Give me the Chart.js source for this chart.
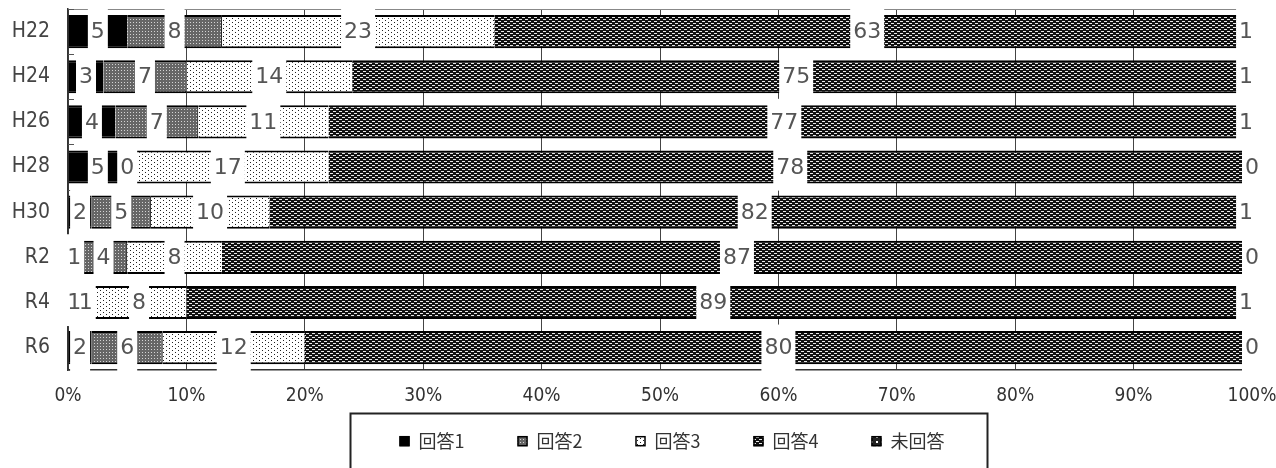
<!DOCTYPE html>
<html><head><meta charset="utf-8">
<script src="https://cdn.jsdelivr.net/npm/chart.js@4.4.1/dist/chart.umd.min.js"></script>
<style>html,body{margin:0;padding:0;background:#fff;}#wrap{width:1276px;height:468px;position:relative;}</style>
</head><body><div id="wrap"><canvas id="c" width="1276" height="468"></canvas></div>
<script>
const categories = ['H22','H24','H26','H28','H30','R2','R4','R6'];
const seriesNames = ['回答1','回答2','回答3','回答4','未回答'];
const answer1 = [5,3,4,5,2,1,1,2];
const answer2 = [8,7,7,0,5,4,1,6];
const answer3 = [23,14,11,17,10,8,8,12];
const answer4 = [63,75,77,78,82,87,89,80];
const noAnswer = [1,1,1,0,1,0,1,0];
const seriesValues = [answer1, answer2, answer3, answer4, noAnswer];
const xTickSuffix = '%';

const canvas = document.getElementById('c');
const mainCtx = canvas.getContext('2d');
function makePattern(w, h, bg, fg, rects){
  const t = document.createElement('canvas'); t.width = w; t.height = h;
  const x = t.getContext('2d');
  x.fillStyle = bg; x.fillRect(0,0,w,h);
  x.fillStyle = fg; rects.forEach(r => x.fillRect(r[0], r[1], r[2]||1, r[3]||1));
  return mainCtx.createPattern(t, 'repeat');
}
const fills = [
  '#000000',
  makePattern(3,3,'#666666','#d4d4d4',[[1,1]]),
  makePattern(6,4,'#ffffff','#222222',[[1,0],[4,2]]),
  makePattern(6,4,'#111111','#e8e8e8',[[0,1,3,1],[3,3,3,1]]),
  makePattern(5,5,'#222222','#ffffff',[[1,1,2,2]])
];
const rightBorders = [0,1,0,0,0];

const datasets = seriesNames.map((name, i) => ({
  label: name,
  data: seriesValues[i],
  backgroundColor: fills[i],
  borderColor: '#000',
  borderWidth: {top:2, bottom:2, left:0, right:rightBorders[i]},
  borderSkipped: false,
  barPercentage: 0.735,
  categoryPercentage: 1.0
}));

const frame = {
  id: 'frame',
  beforeDatasetsDraw(chart){
    const {ctx, chartArea: a} = chart;
    ctx.save();
    ctx.strokeStyle = '#888'; ctx.lineWidth = 1;
    ctx.beginPath(); ctx.moveTo(a.left, a.top + 0.5); ctx.lineTo(a.right, a.top + 0.5); ctx.stroke();
    const pitch = (a.bottom - a.top) / categories.length;
    ctx.strokeStyle = '#555';
    for (let i = 0; i <= categories.length; i++) {
      const y = Math.round(a.top + i * pitch) + 0.5;
      ctx.beginPath(); ctx.moveTo(a.left, y); ctx.lineTo(a.left + 6, y); ctx.stroke();
    }
    ctx.restore();
  }
};

const boxLabels = {
  id: 'boxLabels',
  afterDraw(chart){
    const {ctx, chartArea: a} = chart;
    const pitch = (a.bottom - a.top) / categories.length;
    ctx.save();
    ctx.font = '22px "DejaVu Sans"';
    ctx.textAlign = 'center'; ctx.textBaseline = 'middle';
    const items = [];
    chart.data.datasets.forEach((ds, di) => {
      chart.getDatasetMeta(di).data.forEach((el, i) => {
        const t = String(ds.data[i]);
        const cx = (el.x + el.base) / 2;
        items.push({t, cx, cy: el.y, w: ctx.measureText(t).width + 6});
      });
    });
    ctx.fillStyle = '#fff';
    items.forEach(it => ctx.fillRect(it.cx - it.w/2, it.cy - pitch/2 - 0.5, it.w, pitch + 1.5));
    ctx.fillStyle = '#555';
    items.forEach(it => ctx.fillText(it.t, it.cx, it.cy + 1));
    ctx.restore();
  }
};

// legend drawn on the canvas below the x axis, centred under the plot
const boxedLegend = {
  id: 'boxedLegend',
  afterDraw(chart){
    const {ctx, chartArea: a} = chart;
    ctx.save();
    ctx.font = '18px "Noto Sans CJK JP"';
    ctx.textBaseline = 'middle'; ctx.textAlign = 'left';
    const marker = 10, markerGap = 9, itemGap = 53;
    const widths = chart.data.datasets.map(d => marker + markerGap + ctx.measureText(d.label).width);
    const total = widths.reduce((s, w) => s + w, 0) + itemGap * (widths.length - 1);
    const cx = (a.left + a.right) / 2 + 12;
    const cy = a.bottom + 71;
    let x = cx - total / 2;
    ctx.strokeStyle = '#222'; ctx.lineWidth = 2;
    ctx.strokeRect(Math.round(x - 50) + 0.5, Math.round(cy - 28) + 0.5, Math.round(total + 92), 100);
    chart.data.datasets.forEach((d, i) => {
      ctx.fillStyle = d.backgroundColor;
      ctx.fillRect(x, cy - 5, marker, marker);
      ctx.strokeStyle = '#000'; ctx.lineWidth = 1.5;
      ctx.strokeRect(x + 0.5, cy - 4.5, marker - 1, marker - 1);
      ctx.fillStyle = '#333';
      ctx.fillText(d.label, x + marker + markerGap, cy);
      x += widths[i] + itemGap;
    });
    ctx.restore();
  }
};

new Chart(canvas, {
  type: 'bar',
  data: { labels: categories, datasets },
  options: {
    indexAxis: 'y',
    responsive: false,
    animation: false,
    devicePixelRatio: 1,
    layout: { padding: { top: 9, right: 24, left: 0, bottom: 47 } },
    scales: {
      x: {
        stacked: true, min: 0, max: 100,
        afterFit(s){ s.paddingLeft = 0; s.paddingRight = 0; },
        ticks: { stepSize: 10, padding: 14, color: '#333', autoSkip: false, maxRotation: 0,
          font: { family: '"DejaVu Sans Condensed", "DejaVu Sans", sans-serif', size: 19 },
          callback: v => v + xTickSuffix },
        grid: { color: '#444', lineWidth: 1, drawTicks: false },
        border: { display: true, color: '#333', width: 1.5 }
      },
      y: {
        stacked: true,
        afterFit(s){ s.width = 68; s.paddingTop = 0; s.paddingBottom = 0; },
        ticks: { padding: 18, color: '#444',
          font: { family: '"DejaVu Sans Condensed", "DejaVu Sans", sans-serif', size: 21 } },
        grid: { display: false, drawTicks: false },
        border: { display: true, color: '#333', width: 1.5 }
      }
    },
    plugins: {
      tooltip: { enabled: false },
      legend: { display: false }
    }
  },
  plugins: [frame, boxLabels, boxedLegend]
});
</script></body></html>
